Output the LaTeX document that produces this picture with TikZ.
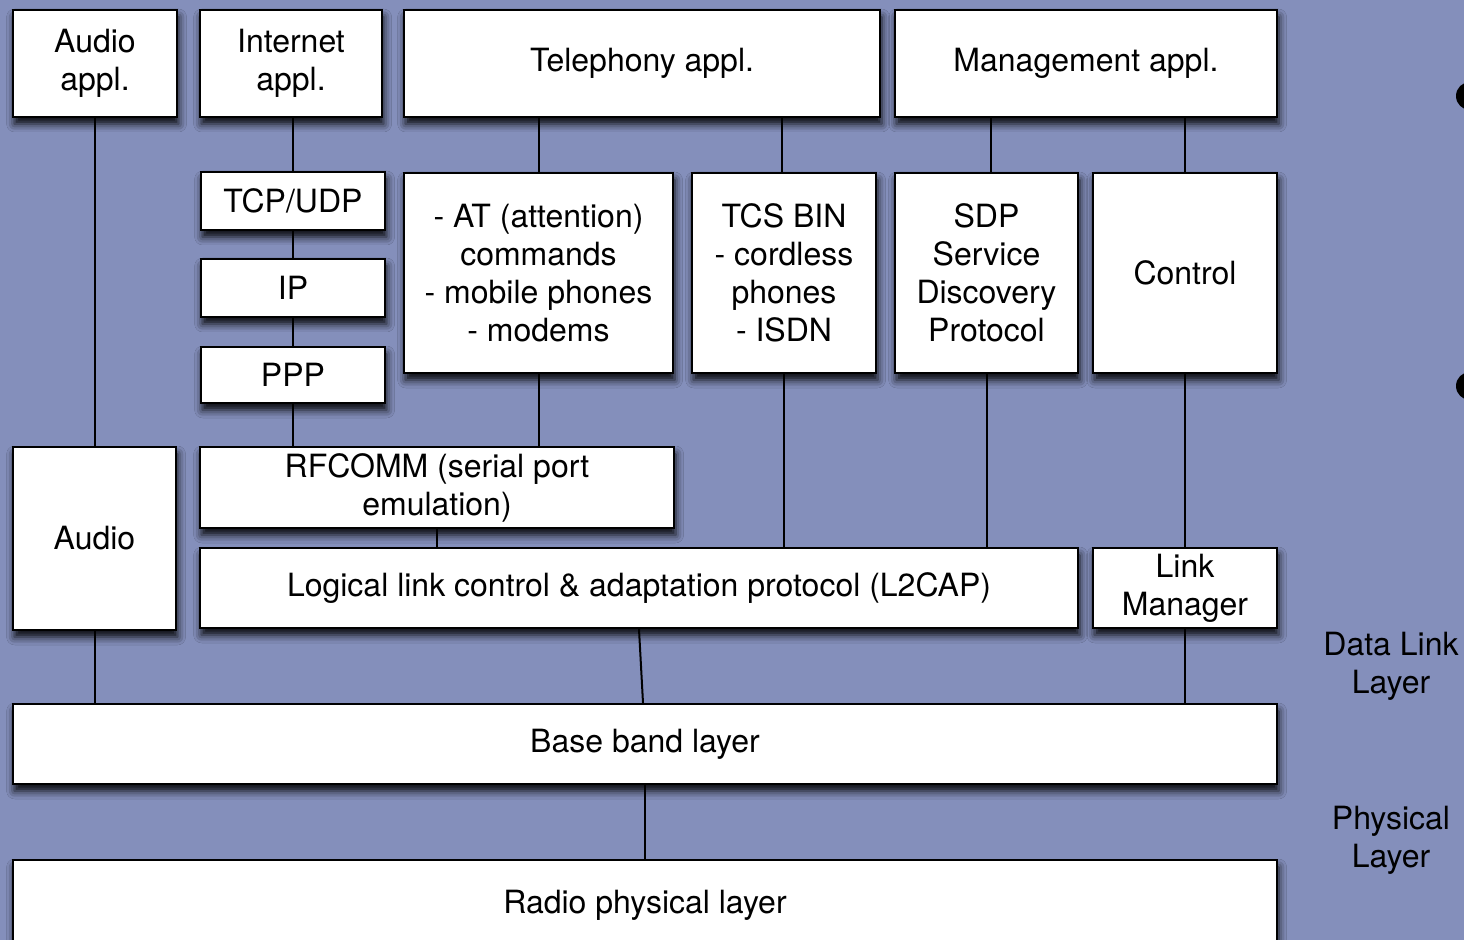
\documentclass[tikz,border=0pt]{standalone}
\usepackage{fontspec}
\setmainfont{TeX Gyre Heros}
\usepackage{tikz}
\usetikzlibrary{calc,positioning,shadows,shadows.blur}
\definecolor{slide}{RGB}{132,143,187}
\tikzset{
  box/.style={draw=black, line width=1.2pt, fill=white, align=center, inner sep=0pt,
    font=\fontsize{16}{19}\selectfont,
    blur shadow={shadow xshift=0.8pt, shadow yshift=-3.5pt, shadow blur radius=4pt, shadow opacity=95}},
  link/.style={draw=black, line width=1pt},
  side/.style={align=center, font=\fontsize{16}{19}\selectfont}
}

\begin{document}
\begin{tikzpicture}[x=0.5pt,y=-0.5pt]
\fill[slide] (0,0) rectangle (1464,940);
\useasboundingbox (0,0) rectangle (1464,940);

% application row
\node[box, minimum width=82pt, minimum height=53.5pt] (audioappl) at (95,63.5) {Audio\\appl.};
\node[box, minimum width=91pt, minimum height=53.5pt] (inetappl) at (291,63.5) {Internet\\appl.};
\node[box, minimum width=238pt, minimum height=53.5pt] (telappl) at (642,63.5) {Telephony appl.};
\node[box, minimum width=191pt, minimum height=53.5pt] (mgmtappl) at (1086,63.5) {Management appl.};

% internet stack
\node[box, minimum width=92pt, minimum height=29pt] (tcp) at (293,201) {TCP/UDP};
\node[box, minimum width=92pt, minimum height=29pt] (ip) at (293,288) {IP};
\node[box, minimum width=92pt, minimum height=28pt] (ppp) at (293,375) {PPP};

% middle protocols
\node[box, minimum width=134.5pt, minimum height=100pt] (atcmd) at (538.5,273) {- AT (attention)\\commands\\- mobile phones\\- modems};
\node[box, minimum width=92pt, minimum height=100pt] (tcsbin) at (784,273) {TCS BIN\\- cordless\\phones\\- ISDN};
\node[box, minimum width=91.5pt, minimum height=100pt] (sdp) at (986.5,273) {SDP\\Service\\Discovery\\Protocol};
\node[box, minimum width=92pt, minimum height=100pt] (control) at (1185,273) {Control};

% lower layers
\node[box, minimum width=81.5pt, minimum height=91.5pt] (audio) at (94.5,538.5) {Audio};
\node[box, minimum width=237pt, minimum height=40.5pt] (rfcomm) at (437,487.5) {RFCOMM (serial port\\emulation)};
\node[box, minimum width=439pt, minimum height=40pt] (l2cap) at (639,588) {Logical link control \& adaptation protocol (L2CAP)};
\node[box, minimum width=92pt, minimum height=40pt] (linkmgr) at (1185,588) {Link\\Manager};
\node[box, minimum width=632pt, minimum height=40pt] (baseband) at (645,744) {Base band layer};
\node[box, minimum width=632pt, minimum height=45pt] (radio) at (645,905) {Radio physical layer};

% layer names
\node[side] (dll) at (1391,666) {Data Link\\Layer};
\node[side] (phy) at (1391,840) {Physical\\Layer};

% bullets of the slide
\fill[black] (1470,96) circle (7pt);
\fill[black] (1470,386) circle (7pt);

\draw[link] (audio.north) -- (audio.north |- audioappl.south);
\draw[link] (tcp.north) -- (tcp.north |- inetappl.south);
\draw[link] (tcp.south) -- (ip.north);
\draw[link] (ip.south) -- (ppp.north);
\draw[link] (ppp.south) -- (ppp.south |- rfcomm.north);
\draw[link] (atcmd.north) -- (atcmd.north |- telappl.south);
\draw[link] ([xshift=-1pt]tcsbin.north) -- ([xshift=-1pt]tcsbin.north |- telappl.south);
\draw[link] ([xshift=2pt]sdp.north) -- ([xshift=2pt]sdp.north |- mgmtappl.south);
\draw[link] (control.north) -- (control.north |- mgmtappl.south);
\draw[link] (atcmd.south) -- (atcmd.south |- rfcomm.north);
\draw[link] (rfcomm.south) -- (rfcomm.south |- l2cap.north);
\draw[link] (tcsbin.south) -- (tcsbin.south |- l2cap.north);
\draw[link] (sdp.south) -- (sdp.south |- l2cap.north);
\draw[link] (control.south) -- (linkmgr.north);
\draw[link] (audio.south) -- (audio.south |- baseband.north);
\draw[link] (l2cap.south) -- ([xshift=2pt]l2cap.south |- baseband.north);
\draw[link] (linkmgr.south) -- (linkmgr.south |- baseband.north);
\draw[link] (baseband.south) -- (baseband.south |- radio.north);
\end{tikzpicture}
\end{document}
